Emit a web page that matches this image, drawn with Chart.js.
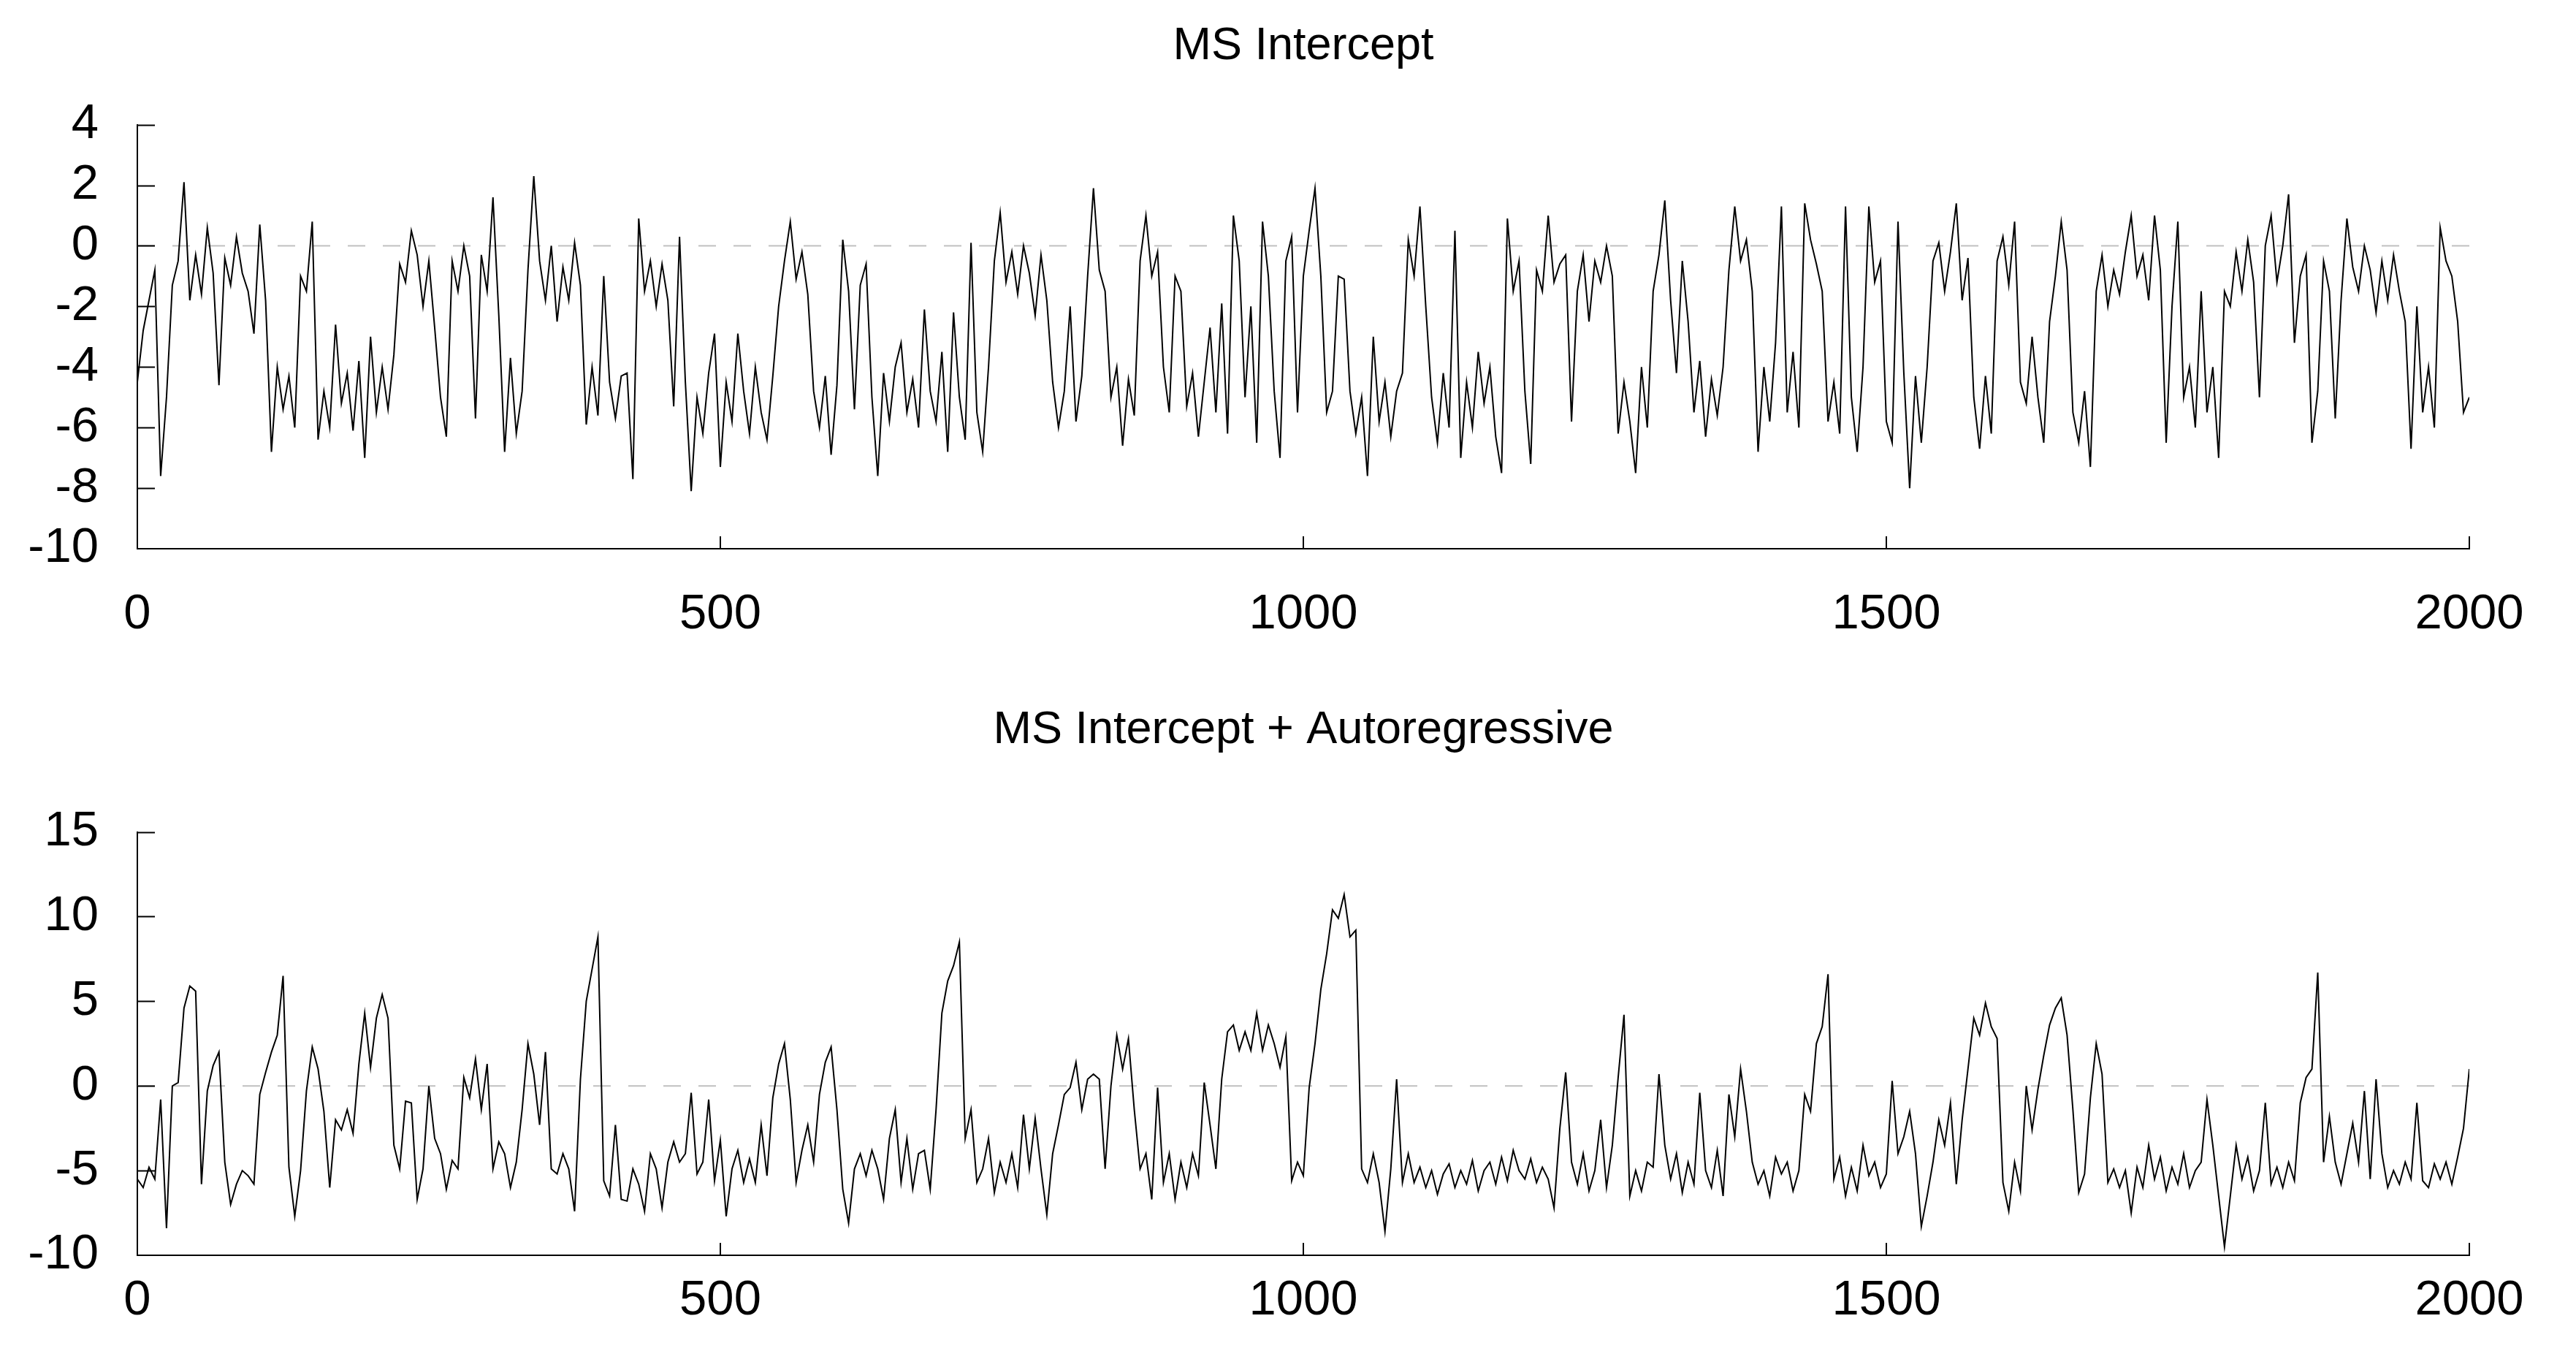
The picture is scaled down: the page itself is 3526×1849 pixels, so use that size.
<!DOCTYPE html>
<html>
<head>
<meta charset="utf-8">
<title>MS Intercept</title>
<script src="https://cdn.jsdelivr.net/npm/chart.js@4.4.1/dist/chart.umd.min.js"></script>
<style>
  html, body { margin: 0; padding: 0; background: #fff; }
  .panel { position: absolute; left: 0; width: 3526px; }
  #topPanel { top: 0; height: 925px; }
  #bottomPanel { top: 925px; height: 924px; }
</style>
</head>
<body>
<div class="panel" id="topPanel"><canvas id="topChart"></canvas></div>
<div class="panel" id="bottomPanel"><canvas id="bottomChart"></canvas></div>
<script>
const STEP = 5;
const xTicks = [0, 500, 1000, 1500, 2000];
const topYTicks = [-10, -8, -6, -4, -2, 0, 2, 4];
const bottomYTicks = [-10, -5, 0, 5, 10, 15];
const topTitle = 'MS Intercept';
const bottomTitle = 'MS Intercept + Autoregressive';

const interceptValues = [
    -4.5, -2.8, -1.8, -0.8, -7.6, -5.0, -1.3, -0.5, 2.1, -1.8,
    -0.3, -1.6, 0.6, -0.9, -4.6, -0.4, -1.3, 0.3, -0.9, -1.5,
    -2.9, 0.7, -1.8, -6.8, -4.0, -5.4, -4.3, -6.0, -1.0, -1.5,
    0.8, -6.4, -4.8, -6.0, -2.6, -5.2, -4.2, -6.1, -3.8, -7.0,
    -3.0, -5.5, -4.0, -5.4, -3.6, -0.6, -1.2, 0.5, -0.3, -2.0,
    -0.5, -2.7, -5.0, -6.3, -0.5, -1.5, 0.0, -1.0, -5.7, -0.3,
    -1.5, 1.6, -2.3, -6.8, -3.7, -6.2, -4.8, -0.8, 2.3, -0.5,
    -1.8, 0.0, -2.5, -0.7, -1.8, 0.1, -1.3, -5.9, -4.0, -5.6,
    -1.0, -4.5, -5.7, -4.3, -4.2, -7.7, 0.9, -1.5, -0.5, -2.0,
    -0.6, -1.8, -5.3, 0.3, -4.5, -8.1, -5.0, -6.2, -4.2, -2.9,
    -7.3, -4.5, -5.8, -2.9, -4.8, -6.2, -4.0, -5.5, -6.4, -4.3,
    -2.0, -0.5, 0.8, -1.1, -0.2, -1.6, -4.8, -6.0, -4.3, -6.9,
    -4.6, 0.2, -1.5, -5.4, -1.3, -0.6, -5.0, -7.6, -4.2, -5.8,
    -4.0, -3.2, -5.5, -4.4, -6.0, -2.1, -4.8, -5.8, -3.5, -6.8,
    -2.2, -5.0, -6.4, 0.1, -5.5, -6.8, -4.0, -0.5, 1.1, -1.2,
    -0.2, -1.6, 0.0, -0.9, -2.3, -0.3, -1.8, -4.5, -6.0, -4.8,
    -2.0, -5.8, -4.3, -1.0, 1.9, -0.8, -1.5, -5.0, -4.0, -6.6,
    -4.4, -5.6, -0.5, 1.0, -1.0, -0.2, -4.0, -5.5, -1.0, -1.5,
    -5.3, -4.2, -6.3, -4.5, -2.7, -5.5, -1.9, -6.2, 1.0, -0.5,
    -5.0, -2.0, -6.5, 0.8, -1.0, -4.8, -7.0, -0.5, 0.3, -5.5,
    -1.0, 0.5, 1.9, -1.0, -5.5, -4.8, -1.0, -1.1, -4.8, -6.2,
    -5.0, -7.6, -3.0, -5.8, -4.5, -6.3, -4.8, -4.2, 0.2, -1.0,
    1.3, -2.0, -5.0, -6.5, -4.2, -6.0, 0.5, -7.0, -4.5, -6.0,
    -3.5, -5.2, -4.0, -6.3, -7.5, 0.9, -1.5, -0.5, -4.8, -7.2,
    -0.8, -1.5, 1.0, -1.2, -0.6, -0.3, -5.8, -1.5, -0.3, -2.5,
    -0.5, -1.2, 0.0, -1.0, -6.2, -4.5, -5.8, -7.5, -4.0, -6.0,
    -1.5, -0.3, 1.5, -1.8, -4.2, -0.5, -2.5, -5.5, -3.8, -6.3,
    -4.4, -5.6, -4.0, -0.8, 1.3, -0.5, 0.2, -1.5, -6.8, -4.0,
    -5.8, -3.2, 1.3, -5.5, -3.5, -6.0, 1.4, 0.2, -0.6, -1.5,
    -5.8, -4.5, -6.2, 1.3, -5.0, -6.8, -4.0, 1.3, -1.2, -0.5,
    -5.8, -6.5, 0.8, -4.2, -8.0, -4.3, -6.5, -4.0, -0.5, 0.1,
    -1.5, -0.2, 1.4, -1.8, -0.4, -5.0, -6.7, -4.3, -6.2, -0.5,
    0.3, -1.3, 0.8, -4.5, -5.2, -3.0, -5.0, -6.5, -2.5, -1.0,
    0.8, -0.8, -5.5, -6.5, -4.8, -7.3, -1.5, -0.3, -2.0, -0.8,
    -1.6, -0.2, 1.0, -1.0, -0.3, -1.8, 1.0, -0.8, -6.5, -2.0,
    0.8, -5.0, -4.0, -6.0, -1.5, -5.5, -4.0, -7.0, -1.5, -2.0,
    -0.2, -1.5, 0.2, -1.2, -5.0, 0.0, 1.0, -1.2, 0.0, 1.7,
    -3.2, -1.0, -0.3, -6.5, -4.8, -0.5, -1.5, -5.7, -1.8, 0.9,
    -0.7, -1.5, 0.0, -0.8, -2.2, -0.5, -1.8, -0.3, -1.5, -2.5,
    -6.7, -2.0, -5.5, -4.0, -6.0, 0.6, -0.5, -1.0, -2.5, -5.5,
    -5.0
];

const autoregValues = [
    -5.5, -6.0, -4.8, -5.5, -0.8, -8.4, 0.0, 0.2, 4.6, 5.9,
    5.6, -5.8, -0.3, 1.2, 2.0, -4.5, -7.0, -5.8, -5.0, -5.3,
    -5.8, -0.5, 0.8, 2.0, 3.0, 6.5, -4.8, -7.7, -5.0, -0.3,
    2.3, 1.0, -1.5, -6.0, -2.0, -2.6, -1.4, -2.8, 1.3, 4.3,
    1.1, 4.0, 5.4, 4.0, -3.5, -4.9, -0.9, -1.0, -6.7, -4.9,
    0.0, -3.1, -4.0, -6.1, -4.4, -4.9, 0.5, -0.7, 1.6, -1.4,
    1.3, -4.9, -3.3, -4.0, -6.0, -4.5, -1.4, 2.5, 0.7, -2.3,
    2.0, -4.9, -5.2, -4.0, -4.9, -7.4, 0.4, 5.0, 6.9, 8.8,
    -5.6, -6.5, -2.3, -6.7, -6.8, -4.9, -5.8, -7.4, -4.0, -4.9,
    -7.2, -4.5, -3.3, -4.5, -4.0, -0.4, -5.2, -4.5, -0.8, -5.6,
    -3.2, -7.7, -4.9, -3.8, -5.7, -4.3, -5.7, -2.3, -5.3, -0.7,
    1.3, 2.5, -0.8, -5.7, -3.8, -2.3, -4.5, -0.5, 1.4, 2.3,
    -1.4, -6.1, -8.1, -4.9, -4.0, -5.3, -3.8, -4.9, -6.7, -3.1,
    -1.4, -5.7, -3.1, -6.1, -4.0, -3.8, -6.1, -1.4, 4.3, 6.2,
    7.1, 8.5, -3.1, -1.4, -5.7, -4.9, -3.1, -6.3, -4.5, -5.7,
    -4.0, -6.0, -1.7, -4.9, -1.9, -4.9, -7.6, -4.0, -2.3, -0.5,
    -0.1, 1.4, -1.4, 0.4, 0.7, 0.4, -4.9, 0.0, 3.0, 1.0,
    2.8, -1.4, -4.9, -4.0, -6.7, -0.1, -5.7, -4.0, -6.7, -4.5,
    -6.0, -4.0, -5.3, 0.2, -2.3, -4.9, 0.4, 3.2, 3.6, 2.1,
    3.2, 2.1, 4.3, 2.1, 3.6, 2.5, 1.1, 2.9, -5.6, -4.5,
    -5.3, -0.1, 2.5, 5.7, 7.8, 10.4, 9.9, 11.3, 8.8, 9.2,
    -4.9, -5.7, -4.0, -5.7, -8.6, -4.9, 0.4, -5.7, -4.0, -5.7,
    -4.8, -6.0, -5.0, -6.4, -5.2, -4.6, -6.0, -5.0, -5.8, -4.4,
    -6.2, -5.0, -4.5, -5.8, -4.2, -5.6, -3.8, -5.0, -5.5, -4.3,
    -5.7, -4.8, -5.5, -7.2, -2.5, 0.8, -4.5, -5.8, -4.0, -6.2,
    -5.0, -2.0, -6.0, -3.5, 0.5, 4.2, -6.5, -5.0, -6.2, -4.5,
    -4.8, 0.7, -3.5, -5.5, -4.0, -6.3, -4.5, -5.8, -0.4, -5.0,
    -6.0, -3.8, -6.5, -0.5, -3.0, 1.0, -1.5, -4.5, -5.8, -5.0,
    -6.5, -4.2, -5.2, -4.5, -6.2, -5.0, -0.5, -1.5, 2.5, 3.5,
    6.6, -5.5, -4.2, -6.5, -4.8, -6.2, -3.5, -5.3, -4.5, -6.0,
    -5.2, 0.3, -4.0, -3.0, -1.5, -4.0, -8.3, -6.5, -4.5, -2.0,
    -3.5, -1.0, -5.8, -2.0, 1.0, 4.0, 3.0, 4.9, 3.5, 2.8,
    -5.7, -7.4, -4.5, -6.2, 0.0, -2.6, -0.2, 1.8, 3.6, 4.6,
    5.2, 3.0, -1.4, -6.3, -5.2, -0.7, 2.5, 0.7, -5.7, -4.9,
    -6.0, -5.0, -7.5, -4.8, -6.0, -3.5, -5.5, -4.2, -6.2, -4.8,
    -5.8, -4.0, -6.0, -5.0, -4.5, -0.8, -3.5, -6.5, -9.5, -6.5,
    -3.5, -5.5, -4.2, -6.2, -5.0, -1.0, -5.8, -4.8, -6.0, -4.5,
    -5.6, -1.0, 0.5, 1.0, 6.7, -4.5, -1.8, -4.5, -5.8, -4.0,
    -2.2, -4.5, -0.3, -5.5, 0.4, -4.0, -6.0, -5.0, -5.8, -4.5,
    -5.5, -1.0, -5.6, -6.0, -4.6, -5.5, -4.5, -5.8, -4.2, -2.5,
    1.0
];

const tickFont = "'Liberation Sans', Arial, sans-serif";
const titleFont = "'Liberation Sans', Arial, sans-serif";

// short tick marks pointing into the plot, like the original
const innerTicks = {
    id: 'innerTicks',
    afterDraw(chart) {
        const { ctx, chartArea, scales } = chart;
        ctx.save();
        ctx.strokeStyle = '#000';
        ctx.lineWidth = 2;
        ctx.beginPath();
        scales.y.ticks.forEach(t => {
            if (t.value === scales.y.min) return;
            const py = Math.round(scales.y.getPixelForValue(t.value)) + 0.5;
            ctx.moveTo(chartArea.left, py);
            ctx.lineTo(chartArea.left + 24, py);
        });
        scales.x.ticks.forEach(t => {
            if (t.value === scales.x.min) return;
            const px = Math.round(scales.x.getPixelForValue(t.value));
            ctx.moveTo(px, chartArea.bottom);
            ctx.lineTo(px, chartArea.bottom - 17);
        });
        ctx.stroke();
        ctx.restore();
    }
};

function makeChart(canvasId, title, values, yTicks, cfg) {
    const ctx = document.getElementById(canvasId).getContext('2d');
    return new Chart(ctx, {
        type: 'line',
        data: {
            datasets: [{
                data: values.map((v, i) => ({ x: i * STEP, y: v })),
                borderColor: '#000',
                borderWidth: 2,
                pointRadius: 0,
                tension: 0,
                order: 1
            }, {
                data: [{ x: xTicks[0], y: 0 }, { x: xTicks[xTicks.length - 1], y: 0 }],
                borderColor: '#c0c0c0',
                borderWidth: 2,
                borderDash: [24, 24],
                pointRadius: 0,
                order: 2
            }]
        },
        options: {
            responsive: true,
            maintainAspectRatio: false,
            animation: false,
            locale: 'en-US',
            layout: { padding: { left: 0, right: 146, top: 0, bottom: 0 } },
            plugins: {
                legend: { display: false },
                tooltip: { enabled: false },
                title: {
                    display: true,
                    fullSize: false,
                    text: title,
                    color: '#000',
                    font: { family: titleFont, size: 63, weight: 'normal' },
                    padding: { top: cfg.titleTop, bottom: cfg.titleBottom }
                }
            },
            scales: {
                x: {
                    type: 'linear',
                    min: xTicks[0],
                    max: xTicks[xTicks.length - 1],
                    afterBuildTicks: s => { s.ticks = xTicks.map(v => ({ value: v })); },
                    afterFit: s => { s.height = cfg.xHeight; },
                    grid: { display: false },
                    border: { display: true, color: '#000', width: 2 },
                    ticks: {
                        color: '#000',
                        font: { family: tickFont, size: 67 },
                        padding: cfg.xPad,
                        maxRotation: 0,
                        autoSkip: false,
                        callback: v => String(v)
                    }
                },
                y: {
                    min: yTicks[0],
                    max: yTicks[yTicks.length - 1],
                    afterBuildTicks: s => { s.ticks = yTicks.map(v => ({ value: v })); },
                    afterFit: s => { s.width = 188; },
                    grid: { display: false },
                    border: { display: true, color: '#000', width: 2 },
                    ticks: {
                        color: '#000',
                        font: { family: tickFont, size: 67 },
                        padding: 45,
                        autoSkip: false,
                        callback: v => String(v)
                    }
                }
            }
        },
        plugins: [innerTicks]
    });
}

makeChart('topChart', topTitle, interceptValues, topYTicks,
    { titleTop: 26, titleBottom: 69, xHeight: 174, xPad: 42 });
makeChart('bottomChart', bottomTitle, autoregValues, bottomYTicks,
    { titleTop: 37, titleBottom: 101, xHeight: 131, xPad: 14 });
</script>
</body>
</html>
